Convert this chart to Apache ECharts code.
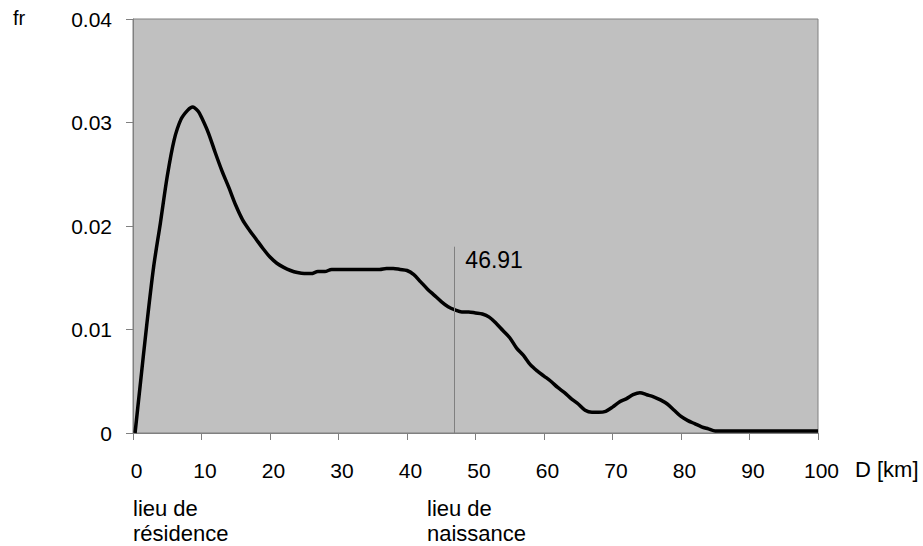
<!doctype html>
<html lang="fr">
<head>
    <meta charset="utf-8">
    <title>fr / D [km]</title>
    <script src="https://cdn.jsdelivr.net/npm/echarts@6/dist/echarts.min.js"></script>
    <style>
        html, body { margin: 0; padding: 0; background: #fff; }
        #main { width: 923px; height: 546px; }
    </style>
</head>
<body>
<div id="main"></div>
<script>
    // distance (km) et fréquence
    var distKm = [0.3, 1, 2, 3, 4, 5, 6, 7, 8, 8.7, 9.5, 10, 11, 12, 13, 14, 15, 16, 17, 18, 19,
        20, 21, 22, 23, 24, 25, 26, 27, 28, 29, 30, 31, 32, 33, 34, 35, 36, 37, 38, 39,
        40, 41, 42, 43, 44, 45, 46, 47, 48, 49, 50, 51, 52, 53, 54, 55, 56, 57, 58, 59,
        60, 61, 62, 63, 64, 65, 66, 67, 68, 69, 70, 71, 72, 73, 74, 75, 76, 77, 78, 79,
        80, 81, 82, 83, 84, 85, 86, 88, 90, 92, 94, 96, 98, 100];
    var freq = [0, 0.0043, 0.0104, 0.0160, 0.0203, 0.0248, 0.0283, 0.0303, 0.0312, 0.0315, 0.0311,
        0.0305, 0.0290, 0.0271, 0.0253, 0.0237, 0.0220, 0.0206, 0.0196, 0.0187, 0.0178,
        0.0170, 0.0164, 0.0160, 0.0157, 0.0155, 0.0154, 0.0154, 0.0156, 0.0156, 0.0158,
        0.0158, 0.0158, 0.0158, 0.0158, 0.0158, 0.0158, 0.0158, 0.0159, 0.0159, 0.0158,
        0.0157, 0.0153, 0.0146, 0.0139, 0.0133, 0.0127, 0.0122, 0.0119, 0.0117, 0.0117,
        0.0116, 0.0115, 0.0112, 0.0106, 0.0099, 0.0092, 0.0082, 0.0075, 0.0066, 0.0060,
        0.0055, 0.0050, 0.0044, 0.0039, 0.0033, 0.0028, 0.0022, 0.0020, 0.0020, 0.0021,
        0.0025, 0.0030, 0.0033, 0.0037, 0.0039, 0.0037, 0.0035, 0.0032, 0.0028, 0.0022,
        0.0016, 0.0012, 0.0009, 0.0006, 0.0004, 0.0002, 0.0002, 0.0002, 0.0002, 0.0002,
        0.0002, 0.0002, 0.0002, 0.0002];
    var xTicks = [0, 10, 20, 30, 40, 50, 60, 70, 80, 90, 100];
    var yTicks = [0, 0.01, 0.02, 0.03, 0.04];
    var markerX = 46.91;
    var markerTop = 0.018;

    var font = 'Liberation Sans, Arial, sans-serif';
    var points = distKm.map(function (d, i) { return [d, freq[i]]; });

    var chart = echarts.init(document.getElementById('main'), null, { renderer: 'svg' });
    chart.setOption({
        animation: false,
        backgroundColor: '#fff',
        textStyle: { fontFamily: font },
        grid: {
            left: 133, top: 19, right: 105, bottom: 113,
            show: true,
            backgroundColor: '#c0c0c0',
            borderColor: '#808080',
            borderWidth: 1
        },
        xAxis: {
            type: 'value',
            min: xTicks[0],
            max: xTicks[xTicks.length - 1],
            interval: 10,
            axisLine: { lineStyle: { color: '#808080', width: 1 } },
            axisTick: { inside: false, length: 7, lineStyle: { color: '#808080' } },
            splitLine: { show: false },
            axisLabel: {
                color: '#000', fontSize: 21, fontFamily: font,
                margin: 27, padding: [0, 0, 0, 7]
            }
        },
        yAxis: {
            type: 'value',
            min: yTicks[0],
            max: yTicks[yTicks.length - 1],
            interval: 0.01,
            axisLine: { show: true, lineStyle: { color: '#808080', width: 1 } },
            axisTick: { show: true, inside: false, length: 7, lineStyle: { color: '#808080' } },
            splitLine: { show: false },
            axisLabel: {
                color: '#000', fontSize: 21, fontFamily: font, margin: 21,
                formatter: function (v) { return v === 0 ? '0' : v.toFixed(2); }
            }
        },
        series: [{
            type: 'line',
            data: points,
            smooth: 0.3,
            showSymbol: false,
            lineStyle: { color: '#000', width: 3.5 },
            z: 3,
            markLine: {
                silent: true,
                symbol: 'none',
                label: { show: false },
                lineStyle: { color: '#808080', width: 1, type: 'solid' },
                data: [[{ coord: [markerX, 0] }, { coord: [markerX, markerTop] }]]
            },
            markPoint: {
                silent: true,
                symbol: 'circle',
                symbolSize: 0,
                label: {
                    show: true,
                    position: [11, 13],
                    verticalAlign: 'middle',
                    color: '#000',
                    fontSize: 23,
                    fontFamily: font,
                    formatter: markerX.toFixed(2)
                },
                data: [{ coord: [markerX, markerTop] }]
            }
        }],
        graphic: [
            { type: 'text', left: 13, top: 8, style: { text: 'fr', fontSize: 20, fontFamily: font, fill: '#000' } },
            { type: 'text', left: 855, top: 458, style: { text: 'D [km]', fontSize: 22, fontFamily: font, fill: '#000' } },
            { type: 'text', left: 133, top: 496, style: { text: 'lieu de\nrésidence', fontSize: 22, lineHeight: 25, fontFamily: font, fill: '#000' } },
            { type: 'text', left: 427, top: 496, style: { text: 'lieu de\nnaissance', fontSize: 22, lineHeight: 25, fontFamily: font, fill: '#000' } }
        ]
    });
</script>
</body>
</html>
